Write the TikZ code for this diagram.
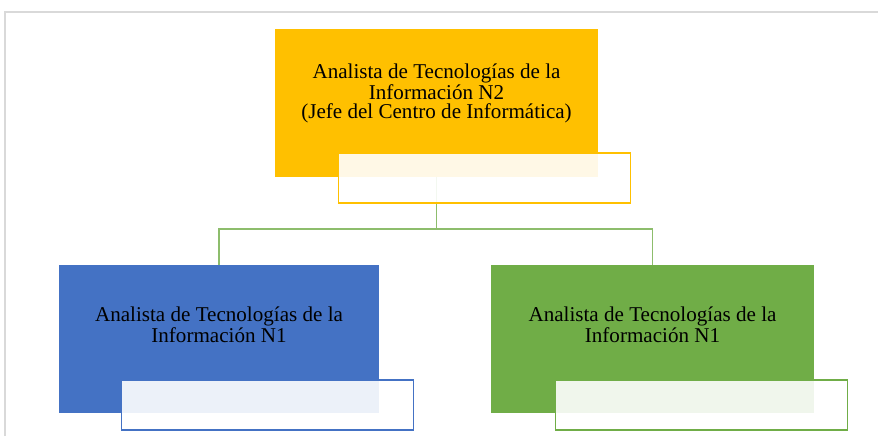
\documentclass[tikz,border=0pt]{standalone}
\usepackage{fontspec}
\setmainfont{Liberation Serif}

\definecolor{amarillo}{HTML}{FFC000}
\definecolor{azul}{HTML}{4472C4}
\definecolor{verde}{HTML}{70AD47}
\definecolor{gris}{HTML}{D9D9D9}

\begin{document}
\begin{tikzpicture}[x=0.02cm, y=-0.02cm,
    caja/.style={minimum width=6.46cm, minimum height=2.96cm, inner sep=0pt},
    tapa/.style={draw=#1, line width=1pt, fill=white, fill opacity=0.9, minimum width=5.84cm, minimum height=1cm, inner sep=0pt},
    texto/.style={align=center, font=\fontsize{12}{10.8}\selectfont},
    conector/.style={draw=verde!80, line width=1pt}]

    \useasboundingbox (0,0) rectangle (878,436);
    \draw[gris, line width=1.2pt] (5,436) |- (878,12);

    \node[caja, fill=amarillo] (jefe) at (436.5,103) {};
    \node[caja, fill=azul, minimum width=6.4cm] (izq) at (219,339) {};
    \node[caja, fill=verde] (der) at (652.5,339) {};

    \coordinate (bus) at (436.5,229);
    \draw[conector] (jefe.south) -- (bus) -| (izq.north);
    \draw[conector] (bus) -| (der.north);

    \node[tapa=amarillo] (jefe-tapa) at (484.5,178) {};
    \node[tapa=azul] (izq-tapa) at (267.5,405) {};
    \node[tapa=verde] (der-tapa) at (701.5,405) {};

    \node[texto] (jefe-txt) at (436.5,93) {Analista de Tecnologías de la\\Información N2\\(Jefe del Centro de Informática)};
    \node[texto] (izq-txt) at (219,325) {Analista de Tecnologías de la\\Información N1};
    \node[texto] (der-txt) at (652.5,325) {Analista de Tecnologías de la\\Información N1};

\end{tikzpicture}
\end{document}
